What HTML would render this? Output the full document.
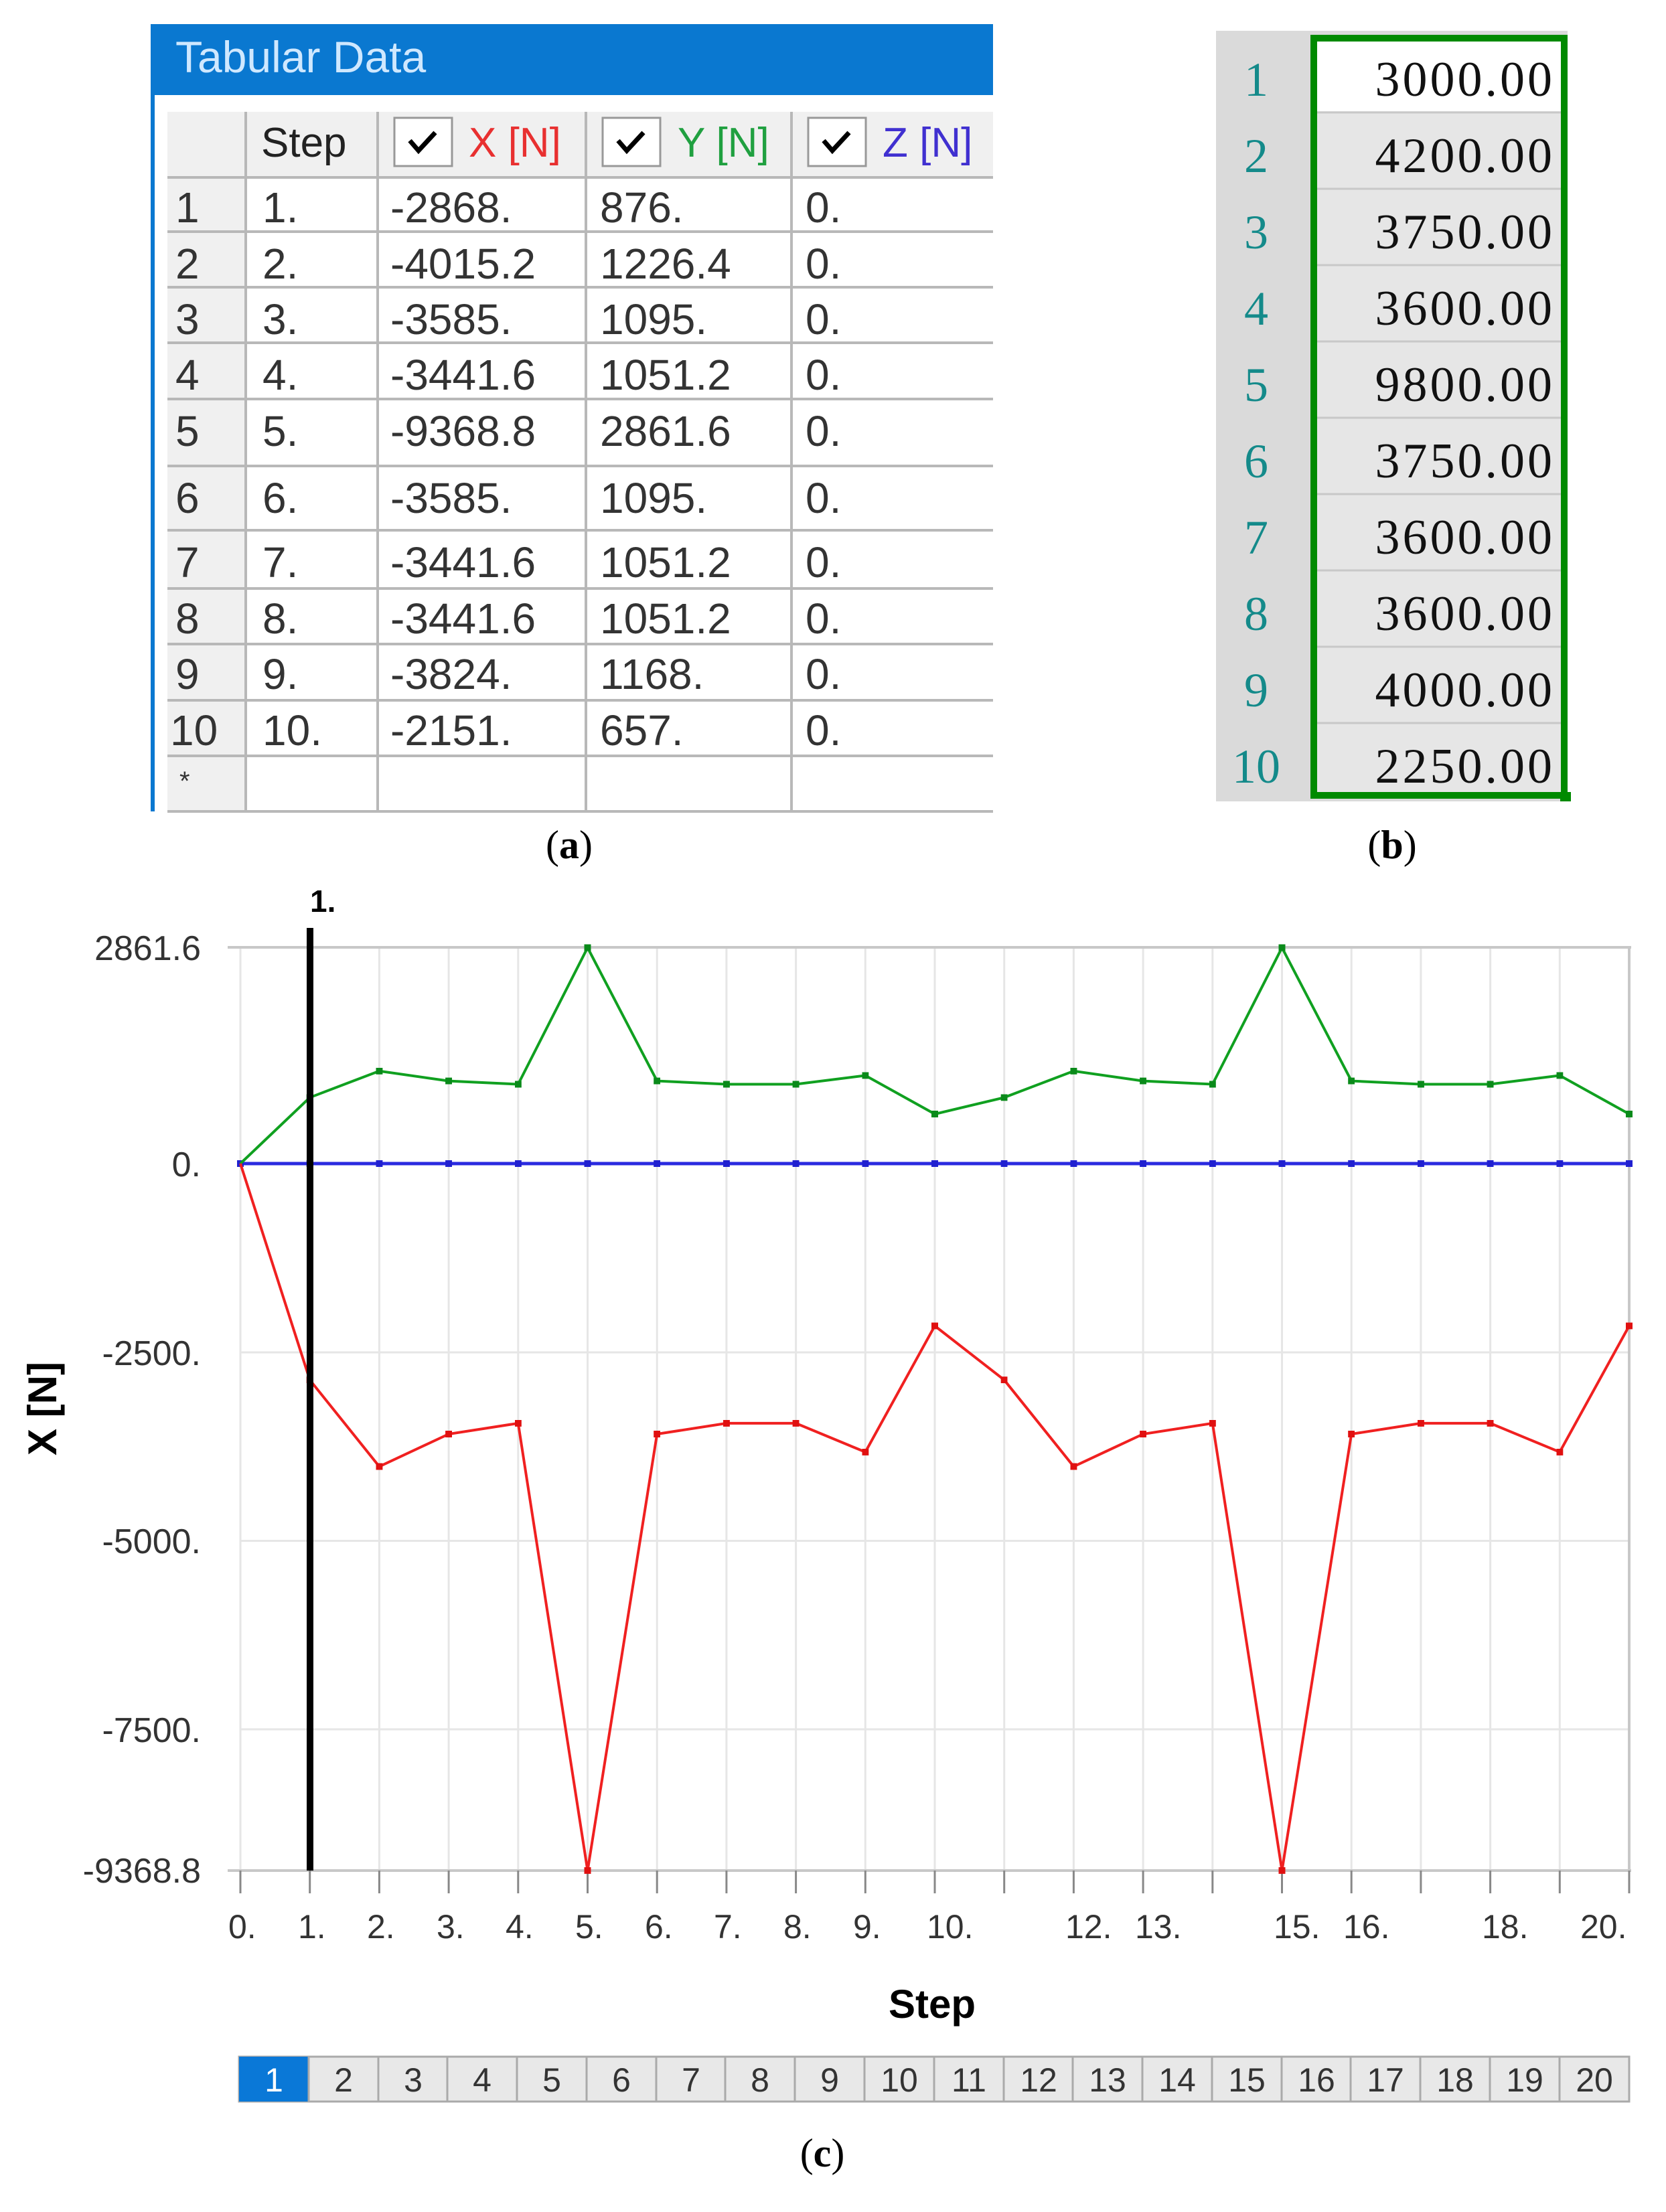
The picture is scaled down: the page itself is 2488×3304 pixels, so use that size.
<!DOCTYPE html>
<html><head><meta charset="utf-8"><style>
html,body{margin:0;padding:0;background:#fff}
svg{display:block}
</style></head><body>
<svg width="2488" height="3304" viewBox="0 0 2488 3304" xmlns="http://www.w3.org/2000/svg" font-family="Liberation Sans, sans-serif">
<defs>
<marker id="mg" markerWidth="10" markerHeight="10" refX="5" refY="5" markerUnits="userSpaceOnUse" viewBox="0 0 10 10"><rect width="10" height="10" fill="#0a8a1a"/></marker>
<marker id="mr" markerWidth="10" markerHeight="10" refX="5" refY="5" markerUnits="userSpaceOnUse" viewBox="0 0 10 10"><rect width="10" height="10" fill="#e01010"/></marker>
<marker id="mb" markerWidth="10" markerHeight="10" refX="5" refY="5" markerUnits="userSpaceOnUse" viewBox="0 0 10 10"><rect width="10" height="10" fill="#2020d0"/></marker>
</defs>
<rect width="2488" height="3304" fill="#fff"/>

<!-- (a) table -->
<rect x="225" y="36" width="1258" height="106" fill="#0a78d0"/>
<text x="262" y="108" font-size="66" fill="#cfe8ff">Tabular Data</text>
<rect x="225" y="36" width="6" height="1176" fill="#0a78d0"/>
<rect x="250" y="167" width="1233" height="1045" fill="#fff"/>
<rect x="250" y="167" width="1233" height="98" fill="#f0f0f0"/>
<rect x="250" y="167" width="117" height="1045" fill="#f0f0f0"/>
<g stroke="#b8b8b8" stroke-width="4">
<line x1="367" y1="167" x2="367" y2="1212"/><line x1="564" y1="167" x2="564" y2="1212"/>
<line x1="875" y1="167" x2="875" y2="1212"/><line x1="1182" y1="167" x2="1182" y2="1212"/>
<line x1="250" y1="265" x2="1483" y2="265"/><line x1="250" y1="346" x2="1483" y2="346"/>
<line x1="250" y1="429" x2="1483" y2="429"/><line x1="250" y1="512" x2="1483" y2="512"/>
<line x1="250" y1="596" x2="1483" y2="596"/><line x1="250" y1="696" x2="1483" y2="696"/>
<line x1="250" y1="792" x2="1483" y2="792"/><line x1="250" y1="879" x2="1483" y2="879"/>
<line x1="250" y1="962" x2="1483" y2="962"/><line x1="250" y1="1046" x2="1483" y2="1046"/>
<line x1="250" y1="1129" x2="1483" y2="1129"/><line x1="250" y1="1212" x2="1483" y2="1212"/>
</g>
<g fill="#fff" stroke="#999" stroke-width="3">
<rect x="589" y="176" width="86" height="72"/><rect x="900" y="176" width="86" height="72"/><rect x="1207" y="176" width="86" height="72"/>
</g>
<g fill="none" stroke="#000" stroke-width="7">
<polyline points="612,210 625,225 650,198"/><polyline points="923,210 936,225 961,198"/><polyline points="1230,210 1243,225 1268,198"/>
</g>
<g font-size="62">
<text x="390" y="234" fill="#222">Step</text>
<text x="700" y="234" fill="#e83030">X [N]</text>
<text x="1012" y="234" fill="#20a040">Y [N]</text>
<text x="1318" y="234" fill="#4030d0">Z [N]</text>
</g>
<g font-size="64" fill="#333">
<text x="262" y="332">1</text><text x="392" y="332">1.</text><text x="583" y="332">-2868.</text><text x="896" y="332">876.</text><text x="1203" y="332">0.</text>
<text x="262" y="416">2</text><text x="392" y="416">2.</text><text x="583" y="416">-4015.2</text><text x="896" y="416">1226.4</text><text x="1203" y="416">0.</text>
<text x="262" y="499">3</text><text x="392" y="499">3.</text><text x="583" y="499">-3585.</text><text x="896" y="499">1095.</text><text x="1203" y="499">0.</text>
<text x="262" y="582">4</text><text x="392" y="582">4.</text><text x="583" y="582">-3441.6</text><text x="896" y="582">1051.2</text><text x="1203" y="582">0.</text>
<text x="262" y="666">5</text><text x="392" y="666">5.</text><text x="583" y="666">-9368.8</text><text x="896" y="666">2861.6</text><text x="1203" y="666">0.</text>
<text x="262" y="766">6</text><text x="392" y="766">6.</text><text x="583" y="766">-3585.</text><text x="896" y="766">1095.</text><text x="1203" y="766">0.</text>
<text x="262" y="862">7</text><text x="392" y="862">7.</text><text x="583" y="862">-3441.6</text><text x="896" y="862">1051.2</text><text x="1203" y="862">0.</text>
<text x="262" y="946">8</text><text x="392" y="946">8.</text><text x="583" y="946">-3441.6</text><text x="896" y="946">1051.2</text><text x="1203" y="946">0.</text>
<text x="262" y="1029">9</text><text x="392" y="1029">9.</text><text x="583" y="1029">-3824.</text><text x="896" y="1029">1168.</text><text x="1203" y="1029">0.</text>
<text x="254" y="1113">10</text><text x="392" y="1113">10.</text><text x="583" y="1113">-2151.</text><text x="896" y="1113">657.</text><text x="1203" y="1113">0.</text>
<text x="268" y="1180" font-size="40">*</text>
</g>
<text x="850" y="1282" font-size="60" font-family="Liberation Serif, serif" text-anchor="middle">(<tspan font-weight="bold">a</tspan>)</text>

<!-- (b) table -->
<rect x="1816" y="46" width="525" height="1151" fill="#dadada"/>
<rect x="1961" y="56" width="376" height="1130" fill="#e6e6e6"/>
<rect x="1961" y="56" width="376" height="110" fill="#fff"/>
<g stroke="#c8c8c8" stroke-width="3">
<line x1="1961" y1="168" x2="2341" y2="168"/><line x1="1961" y1="282" x2="2341" y2="282"/>
<line x1="1961" y1="396" x2="2341" y2="396"/><line x1="1961" y1="510" x2="2341" y2="510"/>
<line x1="1961" y1="624" x2="2341" y2="624"/><line x1="1961" y1="738" x2="2341" y2="738"/>
<line x1="1961" y1="852" x2="2341" y2="852"/><line x1="1961" y1="966" x2="2341" y2="966"/>
<line x1="1961" y1="1080" x2="2341" y2="1080"/>
</g>
<rect x="1962" y="57" width="374" height="1131" fill="none" stroke="#008a00" stroke-width="10"/>
<rect x="2330" y="1183" width="16" height="14" fill="#008a00"/>
<g font-size="72" font-family="Liberation Serif, serif" fill="#148a8a" text-anchor="middle">
<text x="1876" y="143">1</text><text x="1876" y="257">2</text><text x="1876" y="371">3</text><text x="1876" y="485">4</text><text x="1876" y="599">5</text>
<text x="1876" y="713">6</text><text x="1876" y="827">7</text><text x="1876" y="941">8</text><text x="1876" y="1055">9</text><text x="1876" y="1169">10</text>
</g>
<g font-size="74" font-family="Liberation Serif, serif" fill="#111" text-anchor="end" letter-spacing="4">
<text x="2322" y="143">3000.00</text><text x="2322" y="257">4200.00</text><text x="2322" y="371">3750.00</text><text x="2322" y="485">3600.00</text><text x="2322" y="599">9800.00</text>
<text x="2322" y="713">3750.00</text><text x="2322" y="827">3600.00</text><text x="2322" y="941">3600.00</text><text x="2322" y="1055">4000.00</text><text x="2322" y="1169">2250.00</text>
</g>
<text x="2079" y="1282" font-size="60" font-family="Liberation Serif, serif" text-anchor="middle">(<tspan font-weight="bold">b</tspan>)</text>

<!-- (c) chart -->
<g stroke="#e6e6e6" stroke-width="3">
<line x1="359" y1="1415" x2="359" y2="2794"/><line x1="462.7" y1="1415" x2="462.7" y2="2794"/><line x1="566.4" y1="1415" x2="566.4" y2="2794"/>
<line x1="670.1" y1="1415" x2="670.1" y2="2794"/><line x1="773.8" y1="1415" x2="773.8" y2="2794"/><line x1="877.5" y1="1415" x2="877.5" y2="2794"/>
<line x1="981.2" y1="1415" x2="981.2" y2="2794"/><line x1="1084.9" y1="1415" x2="1084.9" y2="2794"/><line x1="1188.6" y1="1415" x2="1188.6" y2="2794"/>
<line x1="1292.3" y1="1415" x2="1292.3" y2="2794"/><line x1="1396" y1="1415" x2="1396" y2="2794"/><line x1="1499.7" y1="1415" x2="1499.7" y2="2794"/>
<line x1="1603.4" y1="1415" x2="1603.4" y2="2794"/><line x1="1707.1" y1="1415" x2="1707.1" y2="2794"/><line x1="1810.8" y1="1415" x2="1810.8" y2="2794"/>
<line x1="1914.5" y1="1415" x2="1914.5" y2="2794"/><line x1="2018.2" y1="1415" x2="2018.2" y2="2794"/><line x1="2121.9" y1="1415" x2="2121.9" y2="2794"/>
<line x1="2225.6" y1="1415" x2="2225.6" y2="2794"/><line x1="2329.3" y1="1415" x2="2329.3" y2="2794"/>
<line x1="359" y1="2020" x2="2433" y2="2020"/><line x1="359" y1="2301.5" x2="2433" y2="2301.5"/><line x1="359" y1="2583" x2="2433" y2="2583"/>
</g>
<g stroke="#c8c8c8" stroke-width="4">
<line x1="340" y1="1415" x2="2436" y2="1415"/><line x1="2433" y1="1415" x2="2433" y2="2794"/>
<line x1="340" y1="2794" x2="2436" y2="2794"/>
</g>
<g stroke="#888" stroke-width="3">
<line x1="359" y1="2794" x2="359" y2="2828"/><line x1="462.7" y1="2794" x2="462.7" y2="2828"/><line x1="566.4" y1="2794" x2="566.4" y2="2828"/>
<line x1="670.1" y1="2794" x2="670.1" y2="2828"/><line x1="773.8" y1="2794" x2="773.8" y2="2828"/><line x1="877.5" y1="2794" x2="877.5" y2="2828"/>
<line x1="981.2" y1="2794" x2="981.2" y2="2828"/><line x1="1084.9" y1="2794" x2="1084.9" y2="2828"/><line x1="1188.6" y1="2794" x2="1188.6" y2="2828"/>
<line x1="1292.3" y1="2794" x2="1292.3" y2="2828"/><line x1="1396" y1="2794" x2="1396" y2="2828"/><line x1="1499.7" y1="2794" x2="1499.7" y2="2828"/>
<line x1="1603.4" y1="2794" x2="1603.4" y2="2828"/><line x1="1707.1" y1="2794" x2="1707.1" y2="2828"/><line x1="1810.8" y1="2794" x2="1810.8" y2="2828"/>
<line x1="1914.5" y1="2794" x2="1914.5" y2="2828"/><line x1="2018.2" y1="2794" x2="2018.2" y2="2828"/><line x1="2121.9" y1="2794" x2="2121.9" y2="2828"/>
<line x1="2225.6" y1="2794" x2="2225.6" y2="2828"/><line x1="2329.3" y1="2794" x2="2329.3" y2="2828"/><line x1="2433" y1="2794" x2="2433" y2="2828"/>
</g>
<polyline fill="none" stroke="#2a2ae0" stroke-width="5" marker-start="url(#mb)" marker-mid="url(#mb)" marker-end="url(#mb)" points="359,1738 462.7,1738 566.4,1738 670.1,1738 773.8,1738 877.5,1738 981.2,1738 1084.9,1738 1188.6,1738 1292.3,1738 1396,1738 1499.7,1738 1603.4,1738 1707.1,1738 1810.8,1738 1914.5,1738 2018.2,1738 2121.9,1738 2225.6,1738 2329.3,1738 2433,1738"/>
<polyline fill="none" stroke="#10a020" stroke-width="4" marker-mid="url(#mg)" marker-end="url(#mg)" points="359,1738 462.7,1639.3 566.4,1599.8 670.1,1614.6 773.8,1619.5 877.5,1415.5 981.2,1614.6 1084.9,1619.5 1188.6,1619.5 1292.3,1606.4 1396,1664 1499.7,1639.3 1603.4,1599.8 1707.1,1614.6 1810.8,1619.5 1914.5,1415.5 2018.2,1614.6 2121.9,1619.5 2225.6,1619.5 2329.3,1606.4 2433,1664"/>
<polyline fill="none" stroke="#f02020" stroke-width="4" marker-mid="url(#mr)" marker-end="url(#mr)" points="359,1738 462.7,2061.2 566.4,2190.5 670.1,2142 773.8,2125.9 877.5,2793.9 981.2,2142 1084.9,2125.9 1188.6,2125.9 1292.3,2168.9 1396,1980.4 1499.7,2061.2 1603.4,2190.5 1707.1,2142 1810.8,2125.9 1914.5,2793.9 2018.2,2142 2121.9,2125.9 2225.6,2125.9 2329.3,2168.9 2433,1980.4"/>
<rect x="458" y="1386" width="10" height="1408" fill="#000"/>
<text x="463" y="1362" font-size="46" font-weight="bold">1.</text>
<g font-size="52" fill="#333" text-anchor="end">
<text x="300" y="1434">2861.6</text><text x="300" y="1757">0.</text><text x="300" y="2039">-2500.</text>
<text x="300" y="2320">-5000.</text><text x="300" y="2602">-7500.</text><text x="300" y="2812">-9368.8</text>
</g>
<g font-size="50" fill="#333">
<text x="341" y="2895">0.</text><text x="445" y="2895">1.</text><text x="548" y="2895">2.</text><text x="652" y="2895">3.</text>
<text x="755" y="2895">4.</text><text x="859" y="2895">5.</text><text x="963" y="2895">6.</text><text x="1066" y="2895">7.</text>
<text x="1170" y="2895">8.</text><text x="1274" y="2895">9.</text><text x="1384" y="2895">10.</text><text x="1591" y="2895">12.</text>
<text x="1695" y="2895">13.</text><text x="1902" y="2895">15.</text><text x="2006" y="2895">16.</text><text x="2213" y="2895">18.</text>
<text x="2360" y="2895">20.</text>
</g>
<text x="1392" y="3014" font-size="60" font-weight="bold" text-anchor="middle">Step</text>
<text transform="translate(84,2104) rotate(-90)" font-size="60" font-weight="bold" text-anchor="middle">X [N]</text>

<!-- step bar -->
<rect x="357" y="3072" width="2076" height="67" fill="#e8e8e8" stroke="#aaa" stroke-width="3"/>
<rect x="357" y="3072" width="104" height="67" fill="#0a78d7"/>
<g stroke="#aaa" stroke-width="3">
<line x1="461" y1="3072" x2="461" y2="3139"/><line x1="565" y1="3072" x2="565" y2="3139"/><line x1="668" y1="3072" x2="668" y2="3139"/>
<line x1="772" y1="3072" x2="772" y2="3139"/><line x1="876" y1="3072" x2="876" y2="3139"/><line x1="980" y1="3072" x2="980" y2="3139"/>
<line x1="1083" y1="3072" x2="1083" y2="3139"/><line x1="1187" y1="3072" x2="1187" y2="3139"/><line x1="1291" y1="3072" x2="1291" y2="3139"/>
<line x1="1395" y1="3072" x2="1395" y2="3139"/><line x1="1499" y1="3072" x2="1499" y2="3139"/><line x1="1602" y1="3072" x2="1602" y2="3139"/>
<line x1="1706" y1="3072" x2="1706" y2="3139"/><line x1="1810" y1="3072" x2="1810" y2="3139"/><line x1="1914" y1="3072" x2="1914" y2="3139"/>
<line x1="2017" y1="3072" x2="2017" y2="3139"/><line x1="2121" y1="3072" x2="2121" y2="3139"/><line x1="2225" y1="3072" x2="2225" y2="3139"/>
<line x1="2329" y1="3072" x2="2329" y2="3139"/>
</g>
<g font-size="50" fill="#333" text-anchor="middle">
<text x="409" y="3124" fill="#fff">1</text><text x="513" y="3124">2</text><text x="617" y="3124">3</text><text x="720" y="3124">4</text>
<text x="824" y="3124">5</text><text x="928" y="3124">6</text><text x="1032" y="3124">7</text><text x="1135" y="3124">8</text>
<text x="1239" y="3124">9</text><text x="1343" y="3124">10</text><text x="1447" y="3124">11</text><text x="1551" y="3124">12</text>
<text x="1654" y="3124">13</text><text x="1758" y="3124">14</text><text x="1862" y="3124">15</text><text x="1966" y="3124">16</text>
<text x="2069" y="3124">17</text><text x="2173" y="3124">18</text><text x="2277" y="3124">19</text><text x="2381" y="3124">20</text>
</g>
<text x="1228" y="3236" font-size="60" font-family="Liberation Serif, serif" text-anchor="middle">(<tspan font-weight="bold">c</tspan>)</text>
</svg>
</body></html>
